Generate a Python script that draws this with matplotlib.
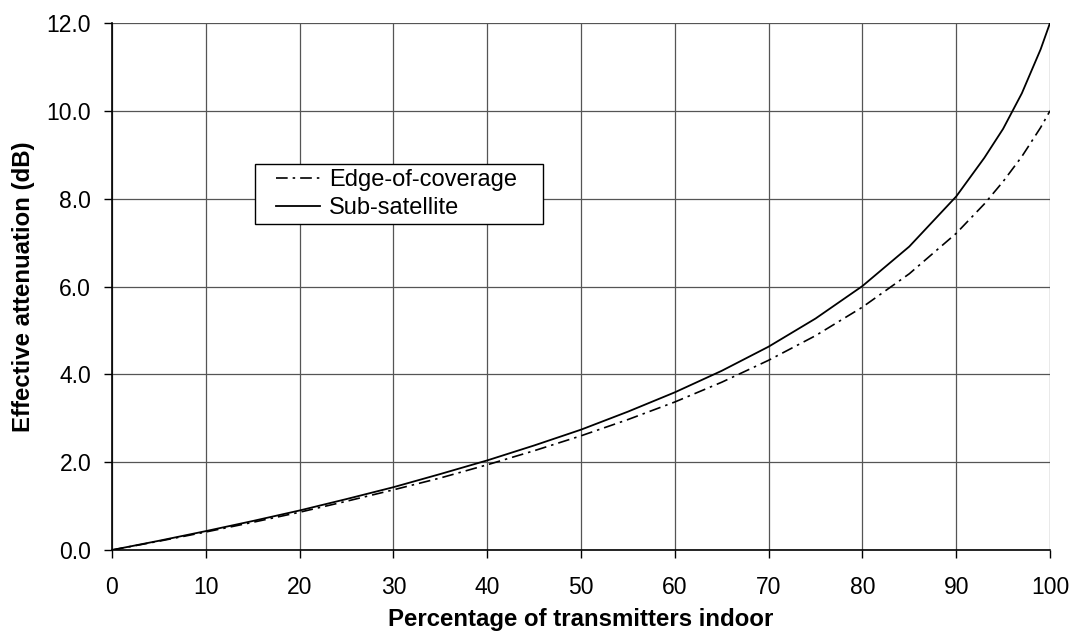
import matplotlib
matplotlib.use("Agg")
from matplotlib import pyplot as plt
from matplotlib.legend_handler import HandlerLine2D

# values
pct = [0, 5, 10, 15, 20, 25, 30, 35, 40, 45, 50, 55, 60, 65, 70, 75, 80, 85, 90, 93, 95, 97, 99, 100]
edge = [0.0, 0.20, 0.41, 0.63, 0.86, 1.11, 1.37, 1.64, 1.94, 2.26, 2.60, 2.97, 3.37, 3.82,
        4.32, 4.88, 5.53, 6.29, 7.21, 7.88, 8.39, 8.96, 9.62, 10.0]
sub = [0.0, 0.21, 0.43, 0.66, 0.90, 1.16, 1.43, 1.73, 2.04, 2.38, 2.74, 3.15, 3.59, 4.08,
       4.63, 5.27, 6.01, 6.91, 8.05, 8.93, 9.59, 10.40, 11.40, 12.0]
x_ticks = list(range(0, 101, 10))
y_ticks = [0, 2, 4, 6, 8, 10, 12]

plt.rcParams["font.family"] = ["Liberation Sans", "DejaVu Sans"]

fig = plt.figure(figsize=(10.71, 6.37), dpi=100)
ax = fig.add_axes([112 / 1071, 1 - 550 / 637, 938 / 1071, 527 / 637])

ax.plot(pct, edge, color="black", linewidth=1.2, linestyle=(0, (7, 3, 1.5, 3)),
        label="Edge-of-coverage")
ax.plot(pct, sub, color="black", linewidth=1.3, label="Sub-satellite")

ax.set_xlim(0, 100)
ax.set_ylim(0, 12)
ax.set_xticks(x_ticks)
ax.set_yticks(y_ticks)
ax.set_yticklabels([f"{v:.1f}" for v in y_ticks])
ax.tick_params(labelsize=16.5, length=6, width=1, color="black")
ax.tick_params(axis="x", pad=13)
ax.tick_params(axis="y", pad=9)
ax.grid(True, color="#555555", linewidth=0.9)
for s in ax.spines.values():
    s.set_visible(False)
ax.spines["left"].set_visible(True)
ax.spines["bottom"].set_visible(True)
ax.spines["left"].set_linewidth(1.2)
ax.spines["bottom"].set_linewidth(1.2)

ax.set_xlabel("Percentage of transmitters indoor", fontsize=17.3, fontweight="bold", labelpad=6)
ax.set_ylabel("Effective attenuation (dB)", fontsize=17.3, fontweight="bold", labelpad=8)

# legend box sized like the reference one
leg = ax.legend(loc="upper left", bbox_to_anchor=(0.152, 0.6, 0.3075, 0.132), mode="expand",
                borderaxespad=0, fancybox=False, edgecolor="black", framealpha=1, fontsize=17,
                handlelength=2.58, handletextpad=0.38, borderpad=0.2, labelspacing=0.27,
                handler_map={plt.Line2D: HandlerLine2D(xpad=0.72)})
leg.get_frame().set_linewidth(1.0)

fig.savefig("out.png", dpi=100)
